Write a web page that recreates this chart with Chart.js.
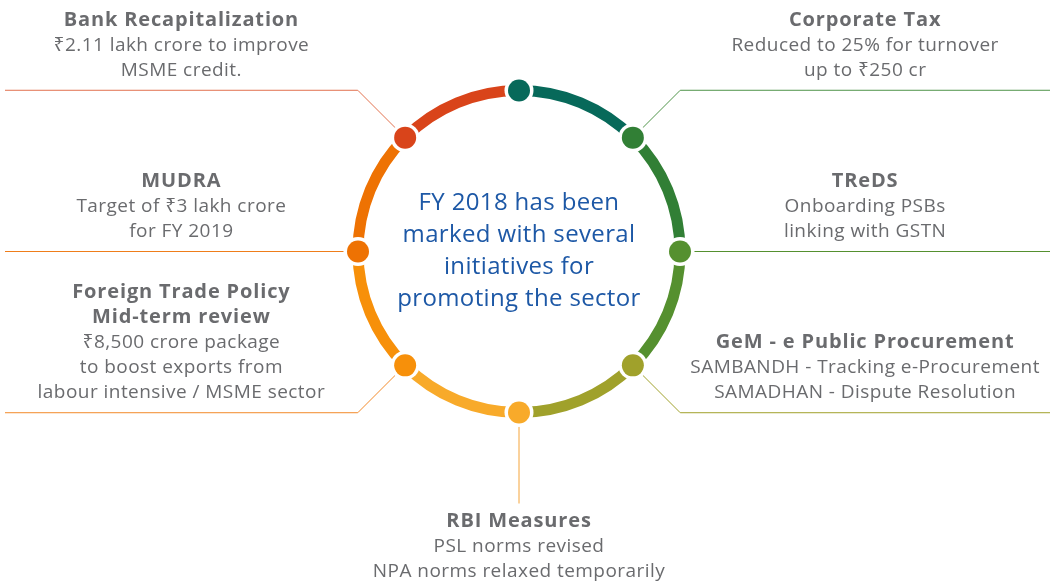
<!DOCTYPE html>
<html><head><meta charset="utf-8">
<script src="https://cdn.jsdelivr.net/npm/chart.js@4.4.0/dist/chart.umd.min.js"></script>
<style>html,body{margin:0;padding:0;background:#fff}#wrap{width:1055px;height:581px;position:relative}</style>
</head><body><div id="wrap"><canvas id="c"></canvas></div>
<script>
// Segments clockwise, starting at the upper-right dot
const categories = ['Corporate Tax','TReDS','GeM - e Public Procurement','RBI Measures','Foreign Trade Policy','MUDRA','Bank Recapitalization','FY 2018'];
const values = [1,1,1,1,1,1,1,1];
const segmentColors = ['#317f35','#55902f','#a0a12b','#f8aa2a','#f7900a','#ee7203','#d9441a','#07695a'];
const lineColors = ['#4f9449','#55902f','#a0a12b','#f5a43a','#f28a2a','#ef7d1a','#e2714e',null];
const titles = [['Corporate Tax'],['TReDS'],['GeM - e Public Procurement'],['RBI Measures'],['Foreign Trade Policy','Mid-term review'],['MUDRA'],['Bank Recapitalization'],[]];
const details = [
  ['Reduced to 25% for turnover','up to \u20B9250 cr'],
  ['Onboarding PSBs','linking with GSTN'],
  ['SAMBANDH - Tracking e-Procurement','SAMADHAN - Dispute Resolution'],
  ['PSL norms revised','NPA norms relaxed temporarily'],
  ['\u20B98,500 crore package','to boost exports from','labour intensive / MSME sector'],
  ['Target of \u20B93 lakh crore','for FY 2019'],
  ['\u20B92.11 lakh crore to improve','MSME credit.'],
  []
];
const centerLines = ['FY 2018 has been','marked with several','initiatives for','promoting the sector'];

const FONT = '"Open Sans", "Noto Sans", sans-serif';
const GREY = '#6a6b6e';

const infoPlugin = {
  id: 'info',
  beforeDatasetsDraw(chart) {
    const ctx = chart.ctx;
    const meta = chart.getDatasetMeta(0);
    ctx.save();
    ctx.lineWidth = 1;
    const W = chart.width;
    meta.data.forEach((arc, i) => {
      if (!lineColors[i]) return;
      const r = (arc.innerRadius + arc.outerRadius) / 2;
      const a = arc.startAngle;
      const c = Math.cos(a), s = Math.sin(a);
      const dx = arc.x + r * c, dy = arc.y + r * s;
      ctx.strokeStyle = lineColors[i];
      ctx.beginPath();
      ctx.moveTo(dx, dy);
      if (Math.abs(c) < 0.1) {
        ctx.lineTo(dx, dy + 91);
      } else if (Math.abs(s) < 0.1) {
        ctx.lineTo(c < 0 ? 5 : W - 5, dy);
      } else {
        const ex = dx + 67 * c, ey = dy + 67 * s;
        ctx.lineTo(ex, ey);
        ctx.lineTo(c < 0 ? 5 : W - 5, ey);
      }
      ctx.stroke();
    });
    ctx.restore();
  },
  afterDatasetsDraw(chart) {
    const ctx = chart.ctx;
    const meta = chart.getDatasetMeta(0);
    const W = chart.width;
    ctx.save();
    const first = meta.data[0];
    const rr = (first.innerRadius + first.outerRadius) / 2;
    const k = Math.SQRT1_2;
    const leftCol = (5 + (first.x - (rr + 67) * k)) / 2;
    const rightCol = (W - 5 + (first.x + (rr + 67) * k)) / 2;
    // dots
    meta.data.forEach((arc, i) => {
      const r = (arc.innerRadius + arc.outerRadius) / 2;
      const a = arc.startAngle;
      const dx = arc.x + r * Math.cos(a), dy = arc.y + r * Math.sin(a);
      ctx.fillStyle = '#ffffff';
      ctx.beginPath(); ctx.arc(dx, dy, 14.5, 0, Math.PI * 2); ctx.fill();
      ctx.fillStyle = segmentColors[i];
      ctx.beginPath(); ctx.arc(dx, dy, 11, 0, Math.PI * 2); ctx.fill();
    });
    // labels
    ctx.textAlign = 'center';
    ctx.textBaseline = 'middle';
    const LH = 25;
    meta.data.forEach((arc, i) => {
      const lines = titles[i].map(t => ({t, b: true})).concat(details[i].map(t => ({t, b: false})));
      if (!lines.length) return;
      const r = (arc.innerRadius + arc.outerRadius) / 2;
      const a = arc.startAngle;
      const c = Math.cos(a), s = Math.sin(a);
      const dx = arc.x + r * c, dy = arc.y + r * s;
      let x, y0;
      if (Math.abs(c) < 0.1) {
        x = dx; y0 = dy + 91 + 18;
      } else {
        const ly = Math.abs(s) < 0.1 ? dy : dy + 67 * s;
        x = c < 0 ? leftCol : rightCol;
        y0 = ly - 20 - (lines.length - 1) * LH;
      }
      lines.forEach((l, j) => {
        if (l.b) {
          ctx.font = '700 20px ' + FONT;
          ctx.letterSpacing = '0.85px';
        } else {
          ctx.font = '400 19px ' + FONT;
          ctx.letterSpacing = '0.45px';
        }
        ctx.fillStyle = GREY;
        ctx.fillText(l.t, x, y0 + j * LH);
      });
    });
    // center
    ctx.letterSpacing = '0.35px';
    ctx.font = '500 24px ' + FONT;
    ctx.fillStyle = '#1d58a6';
    centerLines.forEach((t, j) => {
      ctx.fillText(t, first.x, first.y - 48 + j * 32);
    });
    ctx.restore();
  }
};

new Chart(document.getElementById('c'), {
  type: 'doughnut',
  data: {
    labels: categories,
    datasets: [{ data: values, backgroundColor: segmentColors, borderWidth: 0, hoverOffset: 0 }]
  },
  options: {
    responsive: true,
    maintainAspectRatio: false,
    animation: false,
    rotation: 45,
    radius: 166.5,
    cutout: '93.4%',
    layout: { padding: { left: 0, right: 17, top: 0, bottom: 78 } },
    plugins: { legend: { display: false }, tooltip: { enabled: false } },
    events: []
  },
  plugins: [infoPlugin]
});
</script>
</body></html>
